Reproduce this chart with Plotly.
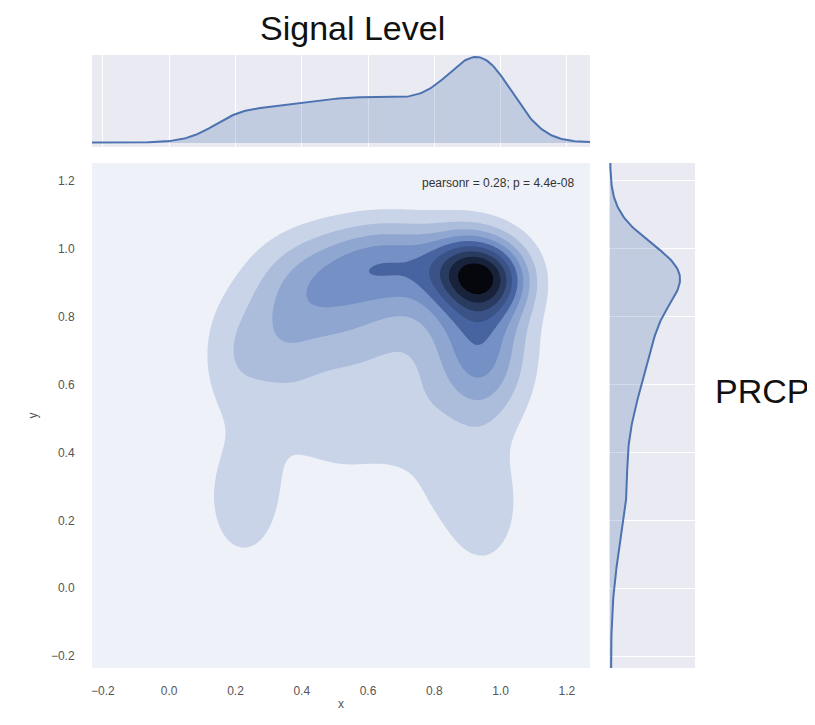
import numpy as np
import plotly.graph_objects as go

# ---- data: density components (centre, spread, weight) ----
comp_x  = [0.895, 0.99, 0.86, 0.66, 0.42, 0.60, 0.19, 0.22, 0.95, 0.94, 0.82, 0.52, 0.60, 0.33, 0.74]
comp_y  = [0.935, 0.915, 0.92, 0.96, 0.89, 0.78, 0.68, 0.26, 0.24, 0.70, 0.30, 0.55, 0.35, 0.70, 0.52]
comp_sx = [0.08, 0.08, 0.12, 0.14, 0.13, 0.20, 0.075, 0.085, 0.08, 0.10, 0.08, 0.17, 0.30, 0.08, 0.08]
comp_sy = [0.08, 0.08, 0.11, 0.09, 0.11, 0.10, 0.13, 0.14, 0.13, 0.15, 0.10, 0.15, 0.30, 0.11, 0.10]
comp_w  = [0.36, 0.36, 0.10, 0.34, 0.22, 0.12, 0.11, 0.12, 0.13, 0.36, 0.04, 0.10, 0.04, 0.10, 0.05]

tick_vals = [-0.2, 0.0, 0.2, 0.4, 0.6, 0.8, 1.0, 1.2]
tick_text = ["\u22120.2", "0.0", "0.2", "0.4", "0.6", "0.8", "1.0", "1.2"]

level_colors = ["#EEF1F8", "#C9D4E8", "#ACBDDC", "#8FA6D0", "#7490C4",
                "#5A79B5", "#4764A0", "#3A5285", "#2A3B60", "#18223A", "#05070D"]

x_range = [-0.233, 1.27]
y_range = [-0.235, 1.253]

# ---- density grid ----
gx = np.linspace(-0.6, 1.7, 461)
gy = np.linspace(-0.6, 1.7, 461)
X, Y = np.meshgrid(gx, gy)
Z = np.zeros_like(X)
for cx, cy, sx, sy, w in zip(comp_x, comp_y, comp_sx, comp_sy, comp_w):
    Z += w * np.exp(-((X - cx) ** 2) / (2 * sx ** 2) - ((Y - cy) ** 2) / (2 * sy ** 2))
Zn = Z / Z.max()

mx = Zn.sum(axis=0)   # marginal along x
my = Zn.sum(axis=1)   # marginal along y

n_bands = len(level_colors)
cscale = []
for i, c in enumerate(level_colors):
    cscale.append([i / n_bands, c])
    cscale.append([(i + 1) / n_bands, c])

fig = go.Figure()
fig.add_trace(go.Contour(
    x=gx, y=gy, z=Zn, xaxis="x", yaxis="y",
    colorscale=cscale, zmin=0, zmax=1.0 + 1.0 / (n_bands - 1),
    contours=dict(coloring="fill", start=0.1, end=0.95, size=0.1),
    line=dict(width=0), showscale=False, hoverinfo="skip"))

line_c = "#4C72B0"
fill_c = "rgba(76,114,176,0.25)"
fig.add_trace(go.Scatter(x=gx, y=mx, xaxis="x2", yaxis="y2", mode="lines",
                         line=dict(color=line_c, width=2), fill="tozeroy",
                         fillcolor=fill_c, hoverinfo="skip", showlegend=False))
fig.add_trace(go.Scatter(x=my, y=gy, xaxis="x3", yaxis="y3", mode="lines",
                         line=dict(color=line_c, width=2), fill="tozerox",
                         fillcolor=fill_c, hoverinfo="skip", showlegend=False))

OFF = 8  # page body margin
W, H = 815 - OFF, 725 - OFF
def fx(p):
    return (p - OFF) / W
def fy(p):
    return 1 - (p - OFF) / H
def px_x(a, b):
    return [fx(a), fx(b)]
def px_y(top, bottom):
    return [fy(bottom), fy(top)]

FONT = "Liberation Sans, Arial"
tick_font = dict(family=FONT, size=12, color="#555555")
Pm = mx.max()
Py = my.max()

fig.update_layout(
    width=W, height=H, margin=dict(l=0, r=0, t=0, b=0),
    paper_bgcolor="white", plot_bgcolor="#EEF1F8", showlegend=False,
    xaxis=dict(domain=px_x(92, 590), range=x_range, tickvals=tick_vals, ticktext=tick_text,
               ticks="outside", ticklen=12, tickcolor="rgba(0,0,0,0)", showgrid=False,
               zeroline=False, showline=False, tickfont=tick_font,
               title=dict(text="x", font=dict(family=FONT, size=12, color="#555555"), standoff=2)),
    yaxis=dict(domain=px_y(163, 668), range=y_range, tickvals=tick_vals, ticktext=tick_text,
               ticks="outside", ticklen=14, tickcolor="rgba(0,0,0,0)", showgrid=False,
               zeroline=False, showline=False, tickfont=tick_font,
               title=dict(text="y", font=dict(family=FONT, size=12, color="#555555"), standoff=10)),
    xaxis2=dict(domain=px_x(92, 590), range=x_range, anchor="y2", tickvals=tick_vals,
                showticklabels=False, showgrid=True, gridcolor="white", gridwidth=1,
                zeroline=False, showline=False),
    yaxis2=dict(domain=px_y(55, 147), range=[-0.047 * Pm, 1.023 * Pm], anchor="x2",
                showticklabels=False, showgrid=False, zeroline=False, showline=False),
    xaxis3=dict(domain=px_x(609, 695), range=[-0.014 * Py, 1.214 * Py], anchor="y3",
                showticklabels=False, showgrid=False, zeroline=False, showline=False),
    yaxis3=dict(domain=px_y(163, 668), range=y_range, anchor="x3", tickvals=tick_vals,
                showticklabels=False, showgrid=True, gridcolor="white", gridwidth=1,
                zeroline=False, showline=False),
)

fig.add_shape(type="rect", xref="paper", yref="paper", layer="below",
              x0=fx(92), x1=fx(590), y0=fy(147), y1=fy(55),
              fillcolor="#EAEAF2", line=dict(width=0))
fig.add_shape(type="rect", xref="paper", yref="paper", layer="below",
              x0=fx(609), x1=fx(695), y0=fy(668), y1=fy(163),
              fillcolor="#EAEAF2", line=dict(width=0))

fig.add_annotation(text="pearsonr = 0.28; p = 4.4e-08", xref="paper", yref="paper",
                   x=fx(576), y=fy(183), xanchor="right", yanchor="middle", showarrow=False,
                   font=dict(family=FONT, size=12, color="#333333"))
fig.add_annotation(text="Signal Level", xref="paper", yref="paper",
                   x=fx(352), y=fy(28), xanchor="center", yanchor="middle", showarrow=False,
                   font=dict(family=FONT, size=34, color="#111111"))
fig.add_annotation(text="PRCP", xref="paper", yref="paper",
                   x=fx(713), y=fy(391), xanchor="left", yanchor="middle", showarrow=False,
                   font=dict(family=FONT, size=34, color="#111111"))

fig.write_html("out.html")
